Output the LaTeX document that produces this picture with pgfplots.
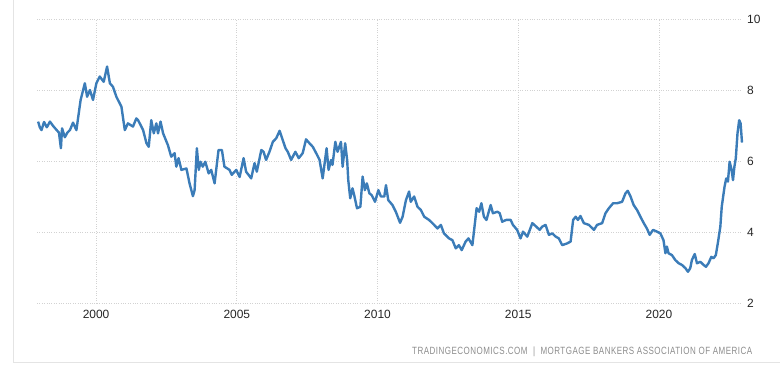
\documentclass[border=0pt]{standalone}
\usepackage{fontspec}
\setmainfont{Liberation Sans}
\usepackage{graphicx}
\usepackage{pgfplots}
\pgfplotsset{compat=1.18}
\definecolor{linec}{HTML}{3B7CB8}
\definecolor{gridc}{HTML}{D2D2D2}
\definecolor{framec}{HTML}{E4E4E4}
\definecolor{labc}{HTML}{262626}
\definecolor{srcc}{HTML}{8C8C8C}
\begin{document}
\begin{tikzpicture}
\path[use as bounding box] (0bp,0bp) rectangle (780bp,366bp);
\draw[framec, line width=1bp] (13.5bp,370bp) -- (13.5bp,3.5bp) -- (790bp,3.5bp);
\begin{axis}[
  at={(37bp,63bp)}, anchor=south west,
  width=705bp, height=284bp, scale only axis,
  xmin=1997.9, xmax=2022.95, ymin=2, ymax=10,
  axis line style={draw=none},
  xtick={2000,2005,2010,2015,2020},
  ytick={2,4,6,8,10},
  major tick length=0pt,
  grid=major,
  major grid style={gridc, dotted, line width=0.9bp},
  yticklabel pos=right,
  /pgf/number format/assume math mode=true,
  xticklabel style={/pgf/number format/1000 sep={}, font=\fontsize{12}{12}\selectfont, text=labc, inner sep=0pt, anchor=north, yshift=-7bp},
  yticklabel style={font=\fontsize{12}{12}\selectfont, text=labc, inner sep=0pt, anchor=west, xshift=5bp},
  clip=false,
]
\addplot[linec, line width=2.4bp, line join=round, no marks] coordinates {
(1997.94,7.11) (1998.00,6.95) (1998.06,6.87) (1998.15,7.10) (1998.25,6.95)
(1998.36,7.11) (1998.48,6.98) (1998.60,6.87) (1998.68,6.80) (1998.75,6.36)
(1998.79,6.92) (1998.89,6.67) (1998.98,6.80) (1999.07,6.87) (1999.18,7.08)
(1999.30,6.87) (1999.45,7.72) (1999.60,8.19) (1999.68,7.81) (1999.78,8.00)
(1999.89,7.72) (2000.01,8.19) (2000.13,8.38) (2000.27,8.23) (2000.39,8.66)
(2000.49,8.19) (2000.60,8.09) (2000.72,7.81) (2000.90,7.53) (2001.02,6.87)
(2001.13,7.06) (2001.31,6.97) (2001.43,7.20) (2001.49,7.15) (2001.55,7.06)
(2001.67,6.87) (2001.79,6.50) (2001.87,6.40) (2001.96,7.15) (2002.05,6.78)
(2002.14,7.06) (2002.20,6.78) (2002.29,7.11) (2002.38,6.78) (2002.55,6.45)
(2002.67,6.12) (2002.79,6.22) (2002.85,5.84) (2002.93,6.08) (2003.03,5.75)
(2003.21,5.79) (2003.32,5.37) (2003.44,5.01) (2003.50,5.18) (2003.58,6.36)
(2003.65,5.75) (2003.71,5.98) (2003.79,5.84) (2003.88,5.98) (2004.00,5.65)
(2004.09,5.75) (2004.21,5.37) (2004.35,6.31) (2004.47,6.31) (2004.56,5.84)
(2004.74,5.75) (2004.82,5.61) (2004.98,5.75) (2005.10,5.55) (2005.24,6.08)
(2005.33,5.70) (2005.51,5.51) (2005.63,5.94) (2005.71,5.70) (2005.87,6.31)
(2005.95,6.26) (2006.04,6.03) (2006.16,6.26) (2006.28,6.54) (2006.40,6.64)
(2006.52,6.85) (2006.61,6.64) (2006.73,6.36) (2006.81,6.26) (2006.93,6.03)
(2007.08,6.26) (2007.20,6.08) (2007.34,6.22) (2007.46,6.61) (2007.58,6.50)
(2007.70,6.40) (2007.82,6.22) (2007.94,6.03) (2008.05,5.51) (2008.19,6.36)
(2008.26,5.75) (2008.35,6.03) (2008.40,5.89) (2008.50,6.54) (2008.58,6.26)
(2008.70,6.54) (2008.76,5.84) (2008.85,6.50) (2008.92,6.03) (2008.96,5.46)
(2009.03,4.95) (2009.11,5.23) (2009.17,5.04) (2009.27,4.67) (2009.39,4.71)
(2009.47,5.56) (2009.55,5.18) (2009.62,5.37) (2009.71,5.09) (2009.79,5.04)
(2009.91,4.85) (2010.03,5.18) (2010.12,5.00) (2010.24,5.00) (2010.30,5.32)
(2010.38,4.90) (2010.53,4.76) (2010.65,4.57) (2010.80,4.26) (2010.89,4.43)
(2011.01,4.90) (2011.12,5.14) (2011.18,4.85) (2011.30,5.00) (2011.42,4.71)
(2011.54,4.62) (2011.66,4.43) (2011.83,4.34) (2011.95,4.25) (2012.13,4.10)
(2012.25,4.20) (2012.36,3.96) (2012.54,3.82) (2012.66,3.77) (2012.78,3.54)
(2012.89,3.63) (2012.99,3.49) (2013.13,3.73) (2013.23,3.82) (2013.37,3.63)
(2013.46,4.25) (2013.52,4.67) (2013.61,4.57) (2013.69,4.81) (2013.78,4.43)
(2013.87,4.34) (2014.02,4.76) (2014.10,4.53) (2014.26,4.57) (2014.34,4.53)
(2014.43,4.29) (2014.57,4.34) (2014.73,4.34) (2014.81,4.20) (2014.96,4.06)
(2015.08,3.82) (2015.17,4.01) (2015.32,3.87) (2015.50,4.25) (2015.64,4.15)
(2015.76,4.06) (2015.85,4.15) (2015.97,4.20) (2016.09,3.92) (2016.21,3.96)
(2016.33,3.87) (2016.44,3.82) (2016.56,3.63) (2016.74,3.68) (2016.86,3.73)
(2016.95,4.34) (2017.04,4.43) (2017.12,4.34) (2017.21,4.45) (2017.33,4.25)
(2017.51,4.20) (2017.69,4.06) (2017.80,4.20) (2017.98,4.25) (2018.10,4.53)
(2018.22,4.67) (2018.37,4.81) (2018.51,4.81) (2018.69,4.85) (2018.81,5.09)
(2018.89,5.16) (2018.99,5.00) (2019.10,4.76) (2019.22,4.62) (2019.34,4.43)
(2019.46,4.25) (2019.57,4.10) (2019.67,3.92) (2019.79,4.06) (2019.93,4.01)
(2020.05,3.96) (2020.16,3.77) (2020.23,3.40) (2020.28,3.59) (2020.34,3.40)
(2020.46,3.35) (2020.58,3.21) (2020.70,3.12) (2020.82,3.07) (2020.94,2.98)
(2021.03,2.88) (2021.11,2.98) (2021.17,3.21) (2021.27,3.38) (2021.35,3.12)
(2021.47,3.16) (2021.59,3.07) (2021.67,3.02) (2021.76,3.12) (2021.86,3.30)
(2021.94,3.26) (2022.02,3.35) (2022.09,3.68) (2022.18,4.15) (2022.23,4.71)
(2022.33,5.28) (2022.39,5.51) (2022.45,5.42) (2022.51,5.98) (2022.58,5.75)
(2022.63,5.46) (2022.68,5.84) (2022.73,6.08) (2022.79,6.78) (2022.85,7.15)
(2022.90,7.06) (2022.95,6.52)
};
\end{axis}
\node[anchor=base west, inner sep=0pt, text=srcc] at (412bp,12bp)
  {\resizebox{340bp}{7.6bp}{\addfontfeatures{LetterSpace=6}TRADINGECONOMICS.COM\ \ |\ \ MORTGAGE\ BANKERS\ ASSOCIATION\ OF\ AMERICA}};
\end{tikzpicture}
\end{document}
